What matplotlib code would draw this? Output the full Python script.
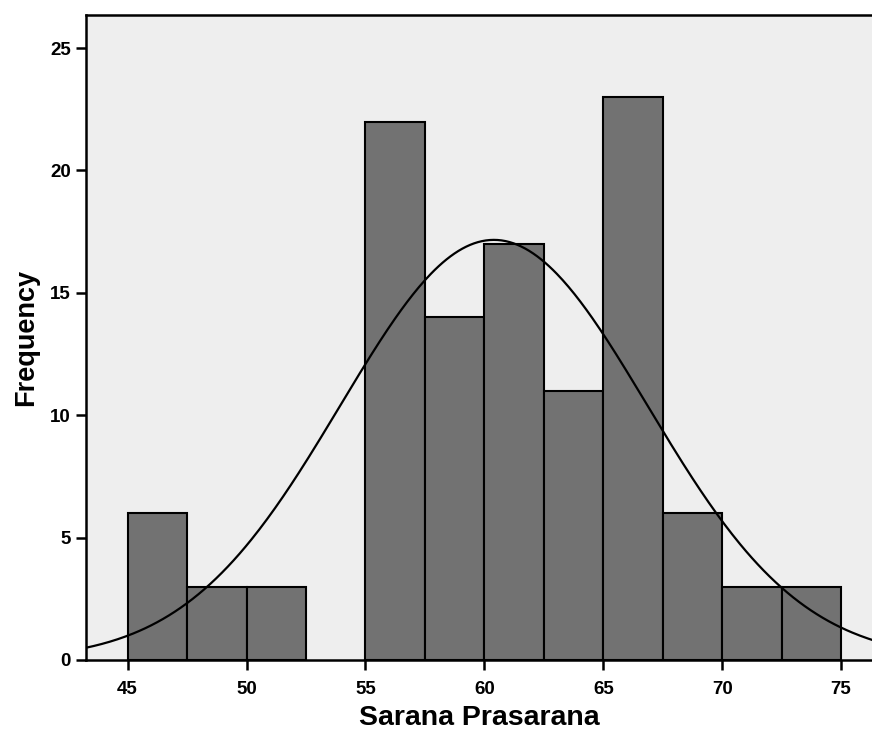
import numpy as np
import matplotlib
matplotlib.use("Agg")
import matplotlib.pyplot as plt

#---- data ----
bin_edges = [45, 47.5, 50, 52.5, 55, 57.5, 60, 62.5, 65, 67.5, 70, 72.5, 75]
counts    = [6, 3, 3, 0, 22, 14, 17, 11, 23, 6, 3, 3]
x_ticks   = [45, 50, 55, 60, 65, 70, 75]
y_ticks   = [0, 5, 10, 15, 20, 25]
mean_val  = 60.4
std_val   = 6.45
N_total   = sum(counts)

plt.rcParams['font.family'] = ['Liberation Sans', 'DejaVu Sans']

fig = plt.figure(figsize=(8.72, 7.33), dpi=100)
ax = fig.add_axes([0.0986, 0.0996, 0.9014, 0.8799])
ax.set_facecolor("#eeeeee")

widths = np.diff(bin_edges)
for left, w, c in zip(bin_edges[:-1], widths, counts):
    if c == 0: continue
    ax.bar(left, c, width=w, align="edge", color="#727272",
           edgecolor="black", linewidth=1.5, zorder=2)

#---- normal curve ----
xs = np.linspace(43.25, 76.3, 400)
bw = bin_edges[1] - bin_edges[0]
ys = N_total * bw / (std_val*np.sqrt(2*np.pi)) * np.exp(-0.5*((xs-mean_val)/std_val)**2)
ax.plot(xs, ys, color="black", linewidth=1.6, zorder=3)

ax.set_xlim(43.25, 76.3)
ax.set_ylim(0, 26.35)
ax.set_xticks(x_ticks)
ax.set_yticks(y_ticks)
ax.tick_params(direction="out", length=7, width=1.8, labelsize=13.5, colors="black", pad=4)
ax.tick_params(axis="x", pad=8)
for lab in ax.get_xticklabels() + ax.get_yticklabels():
    lab.set_fontweight("bold")
for s in ["left", "bottom", "top"]:
    ax.spines[s].set_linewidth(1.8)
ax.spines["right"].set_visible(False)

ax.set_xlabel("Sarana Prasarana", fontsize=20.5, fontweight="bold", labelpad=5)
ax.set_ylabel("Frequency", fontsize=19.5, fontweight="bold", labelpad=8)

fig.savefig("out.png", dpi=100, facecolor="white")
